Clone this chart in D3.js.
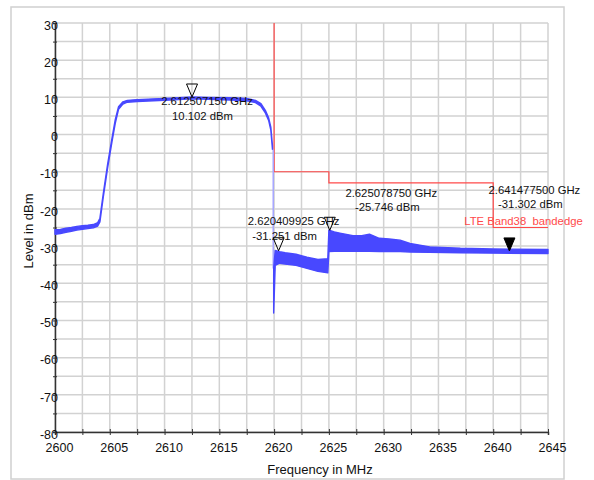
<!DOCTYPE html>
<html>
<head>
<meta charset="utf-8">
<script src="https://cdn.jsdelivr.net/npm/d3@7"></script>
<style>
  body { margin: 0; background: #fff; }
  svg { font-family: "Liberation Sans", Arial, sans-serif; }
</style>
</head>
<body>
<div id="chart"></div>
<script>
// passband part of the trace (MHz, upper / lower edge of the noisy trace in dBm)
const passFreq = [2600, 2600.5, 2601, 2601.5, 2602, 2602.5, 2603, 2603.5, 2603.9, 2604.1, 2604.4, 2604.8,
                  2605.2, 2605.5, 2605.8, 2606.2, 2606.6, 2607.5, 2609, 2610.5, 2612.5, 2614, 2616, 2617.5,
                  2618.3, 2618.8, 2619.2, 2619.5, 2619.7, 2619.85];
const passHi = [-25.6, -25.5, -25.2, -25.0, -24.7, -24.5, -24.4, -24.2, -23.7, -22.5, -16, -8,
                -1, 4, 7.5, 8.8, 9.2, 9.4, 9.6, 9.8, 10.1, 10.0, 9.9, 9.7,
                9.2, 8.3, 6.5, 4.5, 2, -3];
const passLo = [-26.8, -26.6, -26.3, -26.0, -25.7, -25.5, -25.3, -25.1, -24.6, -23.5, -17, -9,
                -2, 3, 6.8, 8.2, 8.7, 8.9, 9.1, 9.3, 9.6, 9.5, 9.3, 9.1,
                8.6, 7.6, 5.8, 3.8, 1.2, -4];

// fast drop at the band edge
const edgeFreq = [2619.92, 2619.92];
const edgeLevel = [-4, -36];

// out-of-band part of the trace
const spurFreq = [2619.96, 2620.1, 2620.5, 2621, 2622, 2623, 2624, 2624.9, 2625, 2625.5, 2626, 2627.2,
                  2628, 2628.7, 2629.6, 2630.5, 2631.5, 2632.4, 2634.2, 2637, 2640, 2645];
const spurHi = [-36, -31.2, -31.5, -31.8, -32.2, -33.0, -33.6, -33.4, -25.7, -26.2, -26.5, -27.2,
                -27.2, -26.8, -27.9, -28.1, -28.4, -29.3, -30.2, -30.6, -30.8, -30.9];
const spurLo = [-48, -35.2, -34.6, -34.8, -35.2, -36.0, -36.8, -37.2, -31.5, -31.4, -31.4, -31.4,
                -31.4, -31.4, -31.5, -31.5, -31.5, -31.6, -31.7, -31.8, -31.9, -32.0];

// LTE Band38 bandedge limit line
const limitFreq = [2620, 2620, 2625, 2625, 2640, 2640, 2645];
const limitLevel = [30, -10, -10, -13, -13, -25, -25];

// markers
const markerGHz = [2.61250715, 2.620409925, 2.62507875, 2.6414775];
const markerLevel = [10.102, -31.251, -25.746, -31.302];
const markerFilled = [false, false, false, true];

const xTicks = d3.range(2600, 2645.01, 2.5);
const yTicks = d3.range(-80, 30.01, 5);

const width = 594, height = 480;
const plotLeft = 55, plotRight = 548, plotTop = 23, plotBottom = 432;

const svg = d3.select("#chart").append("svg")
    .attr("width", width)
    .attr("height", height);

// outer frame
svg.append("rect")
    .attr("x", 11).attr("y", 7)
    .attr("width", 553).attr("height", 472)
    .attr("fill", "none")
    .attr("stroke", "#d0d0d0")
    .attr("stroke-width", 1.5);

const x = d3.scaleLinear().domain([2600, 2645]).range([plotLeft, plotRight]);
const y = d3.scaleLinear().domain([-80, 30]).range([plotBottom, plotTop]);

// grid
svg.append("g").selectAll("line")
    .data(xTicks)
    .join("line")
    .attr("x1", d => x(d)).attr("x2", d => x(d))
    .attr("y1", plotTop).attr("y2", plotBottom)
    .attr("stroke", "#d2d2d2")
    .attr("stroke-width", 1.5);

svg.append("g").selectAll("line")
    .data(yTicks)
    .join("line")
    .attr("x1", plotLeft).attr("x2", plotRight)
    .attr("y1", d => y(d)).attr("y2", d => y(d))
    .attr("stroke", "#d2d2d2")
    .attr("stroke-width", 1.5);

// axes
const xAxis = svg.append("g")
    .attr("transform", `translate(0,${plotBottom})`)
    .call(d3.axisBottom(x)
        .tickValues(xTicks)
        .tickSize(3)
        .tickPadding(8)
        .tickFormat(d => d % 5 === 0 ? String(d) : ""));
xAxis.selectAll(".tick line").attr("y1", -3).attr("y2", 3).attr("stroke", "#333");
xAxis.select(".domain").attr("stroke", "#333").attr("stroke-width", 1.5);
xAxis.selectAll("text")
    .attr("dx", 4)
    .attr("fill", "#111")
    .style("font-size", "12.5px")
    .style("font-family", "Liberation Sans, Arial, sans-serif");

const yAxis = svg.append("g")
    .attr("transform", `translate(${plotLeft},0)`)
    .call(d3.axisLeft(y)
        .tickValues(yTicks)
        .tickSize(2)
        .tickFormat(d => d % 10 === 0 ? String(d) : ""));
yAxis.selectAll(".tick line").attr("x1", -2).attr("x2", 2).attr("stroke", "#333");
yAxis.select(".domain").attr("stroke", "#333").attr("stroke-width", 1.5);
yAxis.selectAll("text")
    .attr("x", 3)
    .attr("dy", "0.5em")
    .attr("fill", "#111")
    .style("font-size", "12.5px")
    .style("font-family", "Liberation Sans, Arial, sans-serif");

// axis titles
svg.append("text")
    .attr("x", 320).attr("y", 474)
    .attr("text-anchor", "middle")
    .style("font-size", "13px")
    .attr("fill", "#111")
    .text("Frequency in MHz");

svg.append("text")
    .attr("transform", "translate(33,231) rotate(-90)")
    .attr("text-anchor", "middle")
    .style("font-size", "13px")
    .attr("fill", "#111")
    .text("Level in dBm");

// limit line
const limitPts = limitFreq.map((f, i) => [f, limitLevel[i]]);
svg.append("path")
    .datum(limitPts)
    .attr("fill", "none")
    .attr("stroke", "#ff4a4a")
    .attr("stroke-width", 1.2)
    .attr("d", d3.line().x(d => x(d[0])).y(d => y(d[1])));

// trace
const traceColor = "#4848ff";
const band = d3.area()
    .x(d => x(d.f))
    .y0(d => y(d.lo))
    .y1(d => y(d.hi));

function drawBand(freqs, his, los) {
    const pts = freqs.map((f, i) => ({ f: f, hi: his[i], lo: los[i] }));
    svg.append("path")
        .datum(pts)
        .attr("fill", traceColor)
        .attr("stroke", traceColor)
        .attr("stroke-width", 1.4)
        .attr("stroke-linejoin", "round")
        .attr("d", band);
}

drawBand(passFreq, passHi, passLo);

svg.append("path")
    .datum(edgeFreq.map((f, i) => [f, edgeLevel[i]]))
    .attr("fill", "none")
    .attr("stroke", "#a6a6ff")
    .attr("stroke-width", 1.5)
    .attr("d", d3.line().x(d => x(d[0])).y(d => y(d[1])));

drawBand(spurFreq, spurHi, spurLo);

// markers
const labelOffsets = [
    { l1: [15, 8.5], l2: [10.5, 23.5] },
    { l1: [15, -25.5], l2: [6, -10.5] },
    { l1: [61.5, -33.5], l2: [57.5, -19.5] },
    { l1: [25, -56.5], l2: [21, -43.2] }
];

const markers = markerGHz.map((g, i) => ({
    mhz: g * 1000,
    level: markerLevel[i],
    filled: markerFilled[i],
    off: labelOffsets[i]
}));

const mk = svg.append("g").selectAll("g")
    .data(markers)
    .join("g")
    .attr("transform", d => `translate(${x(d.mhz)},${y(d.level)})`);

mk.append("path")
    .attr("d", "M0,0 L-5.5,-13 L5.5,-13 Z")
    .attr("fill", d => d.filled ? "#000" : "#fff")
    .attr("fill-opacity", d => d.filled ? 1 : 0)
    .attr("stroke", "#000")
    .attr("stroke-width", 1);

mk.append("text")
    .attr("x", d => d.off.l1[0])
    .attr("y", d => d.off.l1[1])
    .attr("text-anchor", "middle")
    .style("font-size", "11.3px")
    .attr("fill", "#111")
    .text(d => (d.mhz / 1000).toFixed(9) + " GHz");

mk.append("text")
    .attr("x", d => d.off.l2[0])
    .attr("y", d => d.off.l2[1])
    .attr("text-anchor", "middle")
    .style("font-size", "11.3px")
    .attr("fill", "#111")
    .text(d => d.level.toFixed(3) + " dBm");

// limit line label
svg.append("text")
    .attr("x", x(2640) - 29)
    .attr("y", y(-25) - 2.5)
    .style("font-size", "11.3px")
    .attr("fill", "#ff4a4a")
    .attr("xml:space", "preserve")
    .text("LTE Band38  bandedge");
</script>
</body>
</html>
